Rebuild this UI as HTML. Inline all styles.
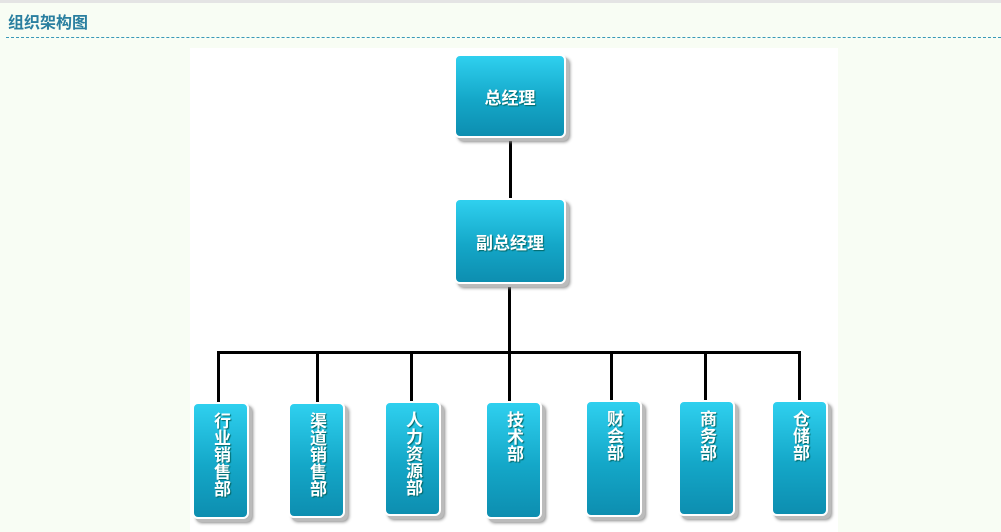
<!DOCTYPE html>
<html><head><meta charset="utf-8"><style>
body{margin:0;width:1001px;height:532px;background:#f8fdf4;position:relative;overflow:hidden;font-family:"Liberation Sans","Noto Sans CJK SC",sans-serif}
.top{position:absolute;left:0;top:0;width:1001px;height:3px;background:#e4e4e4}
.title{position:absolute;left:8px;top:9px;font-size:16px;font-weight:bold;color:#2a7fa0}
.dash{position:absolute;left:6px;right:0;top:37px;border-top:1px dashed #3a9ab8}
.canvas{position:absolute;left:190px;top:48px;width:648px;height:484px;background:#fff}
.b{position:absolute;border-radius:6px;border:2px solid #fff;background:linear-gradient(#2fd0ef,#14a7c8 55%,#0d8eb0);box-shadow:3px 3px 0 #bbb,4px 4px 3px #888;color:#fff;font-weight:bold;display:flex;align-items:center;justify-content:center;text-shadow:1px 1px 1px #066}
.h{font-size:17px}
.v{writing-mode:vertical-rl;text-orientation:upright;font-size:17px;font-weight:bold;justify-content:flex-start;padding-top:8px;box-sizing:border-box}
.l{position:absolute;background:#000}
</style></head><body>
<div class="top"></div>
<div class="title">组织架构图</div>
<div class="dash"></div>
<div class="canvas"></div>
<div class="l" style="left:509px;top:137px;width:3px;height:62px"></div>
<div class="l" style="left:508px;top:283px;width:3px;height:70px"></div>
<div class="l" style="left:217px;top:351px;width:584px;height:3px"></div>
<div class="l" style="left:217px;top:351px;width:3px;height:52px"></div>
<div class="l" style="left:316px;top:351px;width:3px;height:52px"></div>
<div class="l" style="left:410px;top:351px;width:3px;height:52px"></div>
<div class="l" style="left:508px;top:351px;width:3px;height:52px"></div>
<div class="l" style="left:610px;top:351px;width:3px;height:52px"></div>
<div class="l" style="left:704px;top:351px;width:3px;height:52px"></div>
<div class="l" style="left:798px;top:351px;width:3px;height:52px"></div>
<div class="b h" style="left:454px;top:54px;width:108px;height:80px">总经理</div>
<div class="b h" style="left:454px;top:198px;width:108px;height:82px">副总经理</div>
<div class="b v" style="left:192px;top:402px;width:57px;height:117px">行业销售部</div>
<div class="b v" style="left:288px;top:402px;width:57px;height:116px">渠道销售部</div>
<div class="b v" style="left:384px;top:401px;width:57px;height:115px">人力资源部</div>
<div class="b v" style="left:485px;top:401px;width:57px;height:118px">技术部</div>
<div class="b v" style="left:585px;top:400px;width:57px;height:117px">财会部</div>
<div class="b v" style="left:678px;top:400px;width:57px;height:116px">商务部</div>
<div class="b v" style="left:771px;top:400px;width:57px;height:116px">仓储部</div>
</body></html>
